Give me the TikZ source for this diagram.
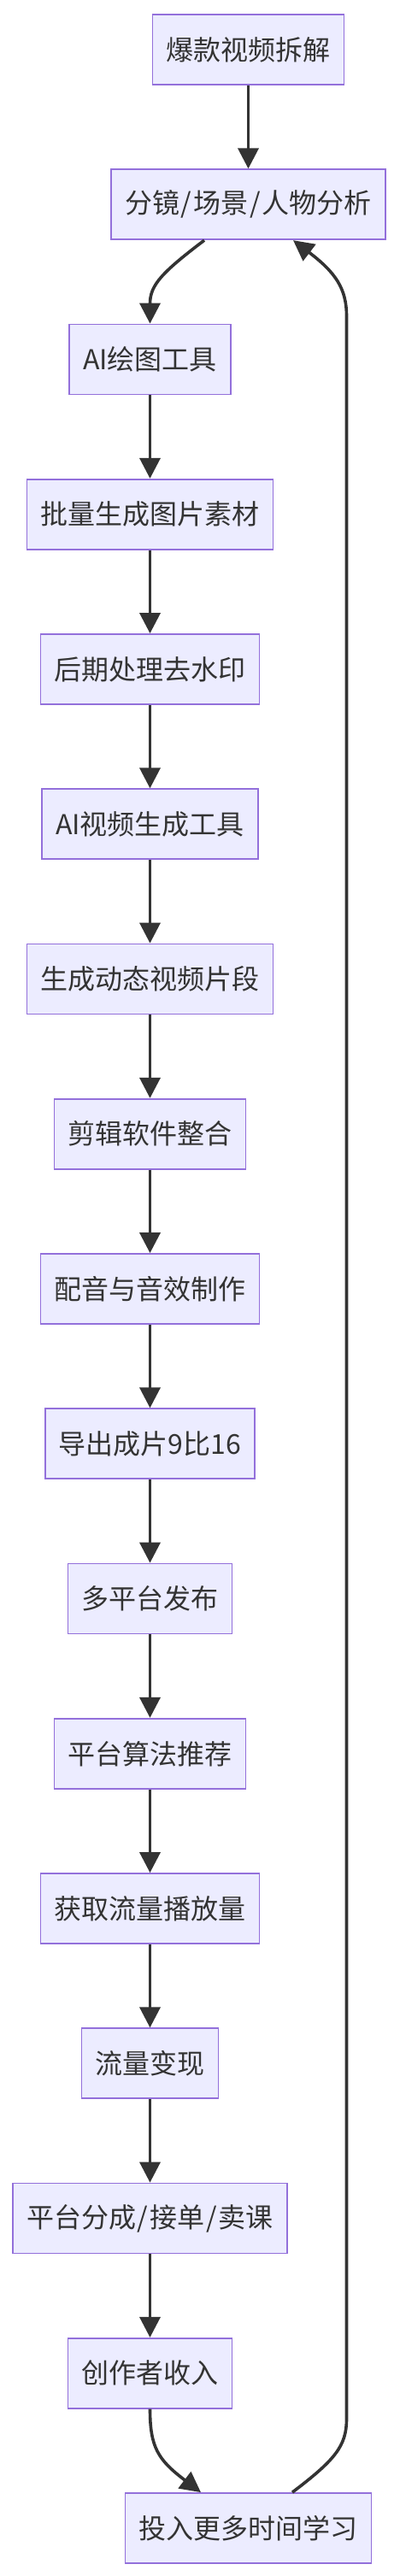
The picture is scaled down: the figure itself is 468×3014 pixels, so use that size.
\documentclass[tikz,border=0pt]{standalone}
\usepackage{fontspec}
\setmainfont{Noto Sans CJK SC}
\usetikzlibrary{arrows.meta}
\definecolor{boxfill}{HTML}{ECECFF}
\definecolor{boxline}{HTML}{9370DB}
\definecolor{edgeline}{HTML}{333333}
\newcommand{\slashsep}{\makebox[16.5pt]{/}}

\begin{document}
\begin{tikzpicture}[x=1pt,y=1pt,>={Triangle[length=24pt,width=24pt]},
    stepbox/.style={draw=boxline,fill=boxfill,line width=1.8pt,rectangle,minimum height=82pt,
      inner xsep=16pt,inner ysep=0pt,text=edgeline,font=\fontsize{32}{38}\selectfont},
    flow/.style={->,draw=edgeline,line width=3.6pt}]
            \fill [white] (0,0) rectangle (468,-3014);
            \useasboundingbox (0,0) rectangle (468,-3014);
            % main column
            \node [stepbox] (n1) at (290.5,-58) {爆款视频拆解};
            \node [stepbox] (n2) at (290.5,-239.25) {分镜\slashsep 场景\slashsep 人物分析};
            \node [stepbox] (n3) at (175.5,-420.5) {AI绘图工具};
            \node [stepbox] (n4) at (175.5,-601.75) {批量生成图片素材};
            \node [stepbox] (n5) at (175.5,-783) {后期处理去水印};
            \node [stepbox] (n6) at (175.5,-964.25) {AI视频生成工具};
            \node [stepbox] (n7) at (175.5,-1145.5) {生成动态视频片段};
            \node [stepbox] (n8) at (175.5,-1326.75) {剪辑软件整合};
            \node [stepbox] (n9) at (175.5,-1508) {配音与音效制作};
            \node [stepbox] (n10) at (175.5,-1689.25) {导出成片9比16};
            \node [stepbox] (n11) at (175.5,-1870.5) {多平台发布};
            \node [stepbox] (n12) at (175.5,-2051.75) {平台算法推荐};
            \node [stepbox] (n13) at (175.5,-2233) {获取流量播放量};
            \node [stepbox] (n14) at (175.5,-2414.25) {流量变现};
            \node [stepbox] (n15) at (175.5,-2595.5) {平台分成\slashsep 接单\slashsep 卖课};
            \node [stepbox] (n16) at (175.5,-2776.75) {创作者收入};
            \node [stepbox] (n17) at (290.5,-2958) {投入更多时间学习};
            % straight links
            \draw [flow] (n1) -- (n2);
            \draw [flow] (n3) -- (n4);
            \draw [flow] (n4) -- (n5);
            \draw [flow] (n5) -- (n6);
            \draw [flow] (n6) -- (n7);
            \draw [flow] (n7) -- (n8);
            \draw [flow] (n8) -- (n9);
            \draw [flow] (n9) -- (n10);
            \draw [flow] (n10) -- (n11);
            \draw [flow] (n11) -- (n12);
            \draw [flow] (n12) -- (n13);
            \draw [flow] (n13) -- (n14);
            \draw [flow] (n14) -- (n15);
            \draw [flow] (n15) -- (n16);
            % bends
            \draw [flow] ([xshift=-51.5pt]n2.south) .. controls +(-50,-38) and +(0,45) .. (n3.north);
            \draw [flow] (n16.south) .. controls +(0,-45) and +(-50,38) .. ([xshift=-55.5pt]n17.north);
            % loop back
            \draw [flow] ([xshift=51.5pt]n17.north) .. controls +(50,38) and +(0,-32) .. (405.5,-2830)
                -- (405.5,-370) .. controls +(0,32) and +(50,-38) .. ([xshift=52.5pt]n2.south);
        \end{tikzpicture}
\end{document}
